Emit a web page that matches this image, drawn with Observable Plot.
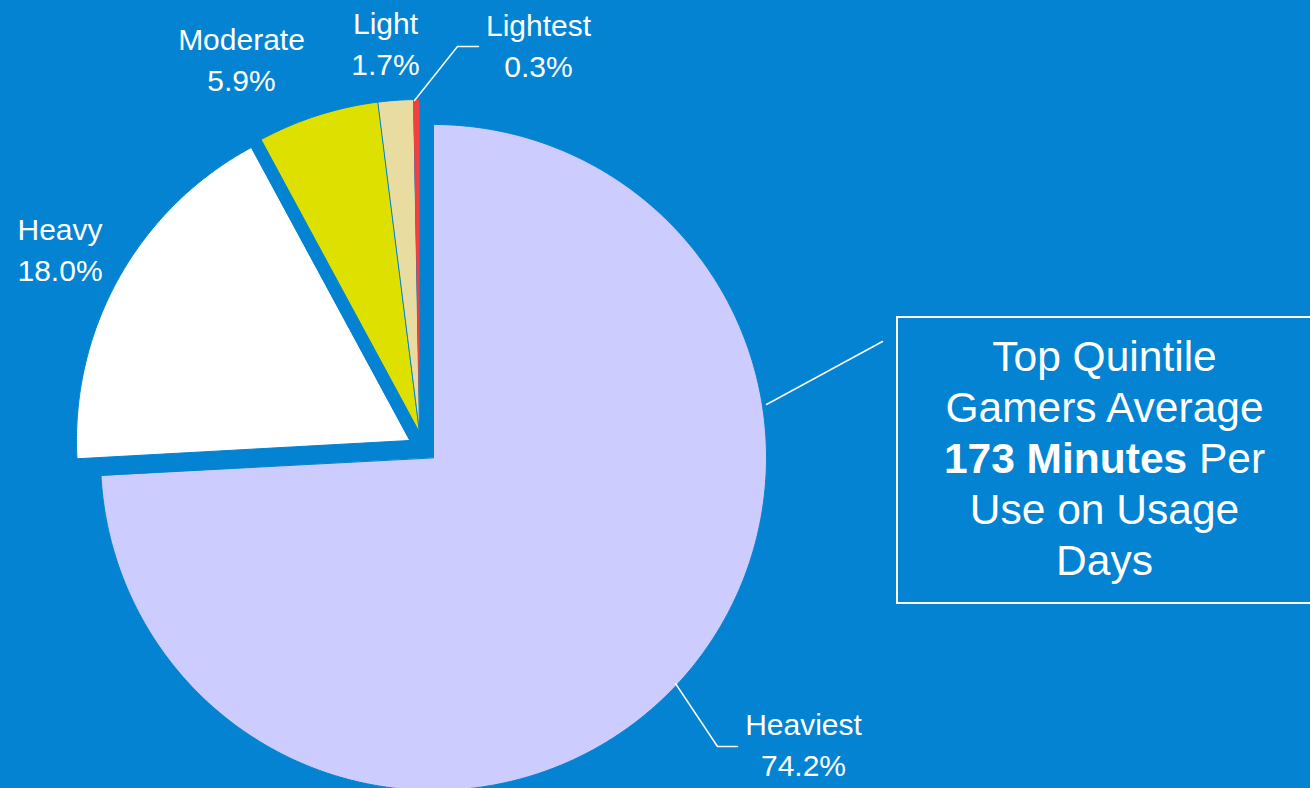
<!DOCTYPE html>
<html>
<head>
<meta charset="utf-8">
<script src="https://cdn.jsdelivr.net/npm/d3@7"></script>
<script src="https://cdn.jsdelivr.net/npm/@observablehq/plot@0.6"></script>
<style>
  html, body { margin: 0; padding: 0; background: #0383D1; }
  #chart { width: 1310px; height: 788px; overflow: hidden; }
</style>
</head>
<body>
<div id="chart"></div>
<script>
// ---- data ----
const categories = ["Heaviest", "Heavy", "Moderate", "Light", "Lightest"];
const shares = [74.2, 18.0, 5.9, 1.7, 0.3];
const sliceColors = ["#CCCCFF", "#FFFFFF", "#DEE000", "#E8DCA0", "#F04040"];
const boxLines = ["Top Quintile", "Gamers Average", "173 Minutes Per", "Use on Usage", "Days"];
const boldPart = "173 Minutes";

// ---- layout ----
const W = 1310, H = 788;
const bg = "#0383D1";
const font = "'Liberation Sans', Arial, sans-serif";
const pie = {cx: 433, cy: 457, r: 333};
const explode = {Heaviest: [0, 0], Heavy: [-24, -17], Moderate: [-14, -25], Light: [-14, -25], Lightest: [-14, -25]};
const labelPos = {
  Heaviest: {x: 803, y: 775, anchor: "middle"},
  Heavy: {x: 17, y: 280, anchor: "start"},
  Moderate: {x: 241, y: 90, anchor: "middle"},
  Light: {x: 385, y: 74, anchor: "middle"},
  Lightest: {x: 538, y: 76, anchor: "middle"}
};
const leaders = [
  [[766, 404], [882, 341]],
  [[675, 683], [717, 746], [737, 746]],
  [[414, 100], [457, 46], [478, 46]]
];
const box = {x1: 897, x2: 1311, y1: 317, y2: 603, cx: 1104, baseline0: 370, step: 51, size: 42.5};

// ---- slices ----
const arcs = d3.pie().sort(null).startAngle(0).endAngle(2 * Math.PI)(shares);
const polyPts = [];
arcs.forEach((a, i) => {
  const name = categories[i];
  const [ox, oy] = explode[name];
  const vx = pie.cx + ox, vy = pie.cy + oy;
  polyPts.push({name, x: vx, y: vy});
  const n = Math.max(4, Math.ceil((a.endAngle - a.startAngle) * 120));
  for (let k = 0; k <= n; k++) {
    const t = a.startAngle + (a.endAngle - a.startAngle) * k / n;
    polyPts.push({name, x: vx + pie.r * Math.sin(t), y: vy - pie.r * Math.cos(t)});
  }
});

const labels = categories.map((c, i) => ({
  text: `${c}\n${shares[i].toFixed(1)}%`,
  ...labelPos[c]
}));

const leaderPts = leaders.flatMap((l, i) => l.map(([x, y]) => ({id: i, x, y})));

// mixed-weight line measurement
const ctx = document.createElement("canvas").getContext("2d");
ctx.font = `bold ${box.size}px ${font}`;
const wBold = ctx.measureText(boldPart).width;
const restPart = boxLines[2].slice(boldPart.length);
ctx.font = `${box.size}px ${font}`;
const wRest = ctx.measureText(restPart).width;
const lineStart = box.cx - (wBold + wRest) / 2;

const plainLines = boxLines.map((t, i) => ({t, i})).filter(d => d.i !== 2)
  .map(d => ({text: d.t, x: box.cx, y: box.baseline0 + d.i * box.step}));
const y2 = box.baseline0 + 2 * box.step;

const chart = Plot.plot({
  width: W, height: H,
  margin: 0,
  style: {background: bg, fontFamily: font, overflow: "hidden"},
  x: {domain: [0, W], range: [0, W], axis: null},
  y: {domain: [0, H], range: [0, H], axis: null},
  color: {domain: categories, range: sliceColors},
  marks: [
    Plot.line(polyPts.filter(d => d.name !== "Lightest"), {x: "x", y: "y", z: "name", fill: "name", stroke: bg, strokeWidth: 1, curve: "linear-closed"}),
    Plot.line(polyPts.filter(d => d.name === "Lightest"), {x: "x", y: "y", z: "name", fill: "name", curve: "linear-closed"}),
    Plot.line(leaderPts, {x: "x", y: "y", z: "id", stroke: "white", strokeWidth: 1.5}),
    Plot.text(labels.filter(d => d.anchor === "middle"), {x: "x", y: "y", text: "text", textAnchor: "middle", lineAnchor: "bottom", lineHeight: 1.36, fontSize: 30, fill: "white"}),
    Plot.text(labels.filter(d => d.anchor === "start"), {x: "x", y: "y", text: "text", textAnchor: "start", lineAnchor: "bottom", lineHeight: 1.36, fontSize: 30, fill: "white"}),
    Plot.rect([box], {x1: "x1", x2: "x2", y1: "y1", y2: "y2", fill: "none", stroke: "white", strokeWidth: 2}),
    Plot.text(plainLines, {x: "x", y: "y", text: "text", textAnchor: "middle", lineAnchor: "bottom", fontSize: box.size, fill: "white"}),
    Plot.text([{text: boldPart, x: lineStart, y: y2}], {x: "x", y: "y", text: "text", textAnchor: "start", lineAnchor: "bottom", fontSize: box.size, fontWeight: "bold", fill: "white"}),
    Plot.text([{text: restPart, x: lineStart + wBold + wRest, y: y2}], {x: "x", y: "y", text: "text", textAnchor: "end", lineAnchor: "bottom", fontSize: box.size, fill: "white"})
  ]
});
document.getElementById("chart").appendChild(chart);
</script>
</body>
</html>
